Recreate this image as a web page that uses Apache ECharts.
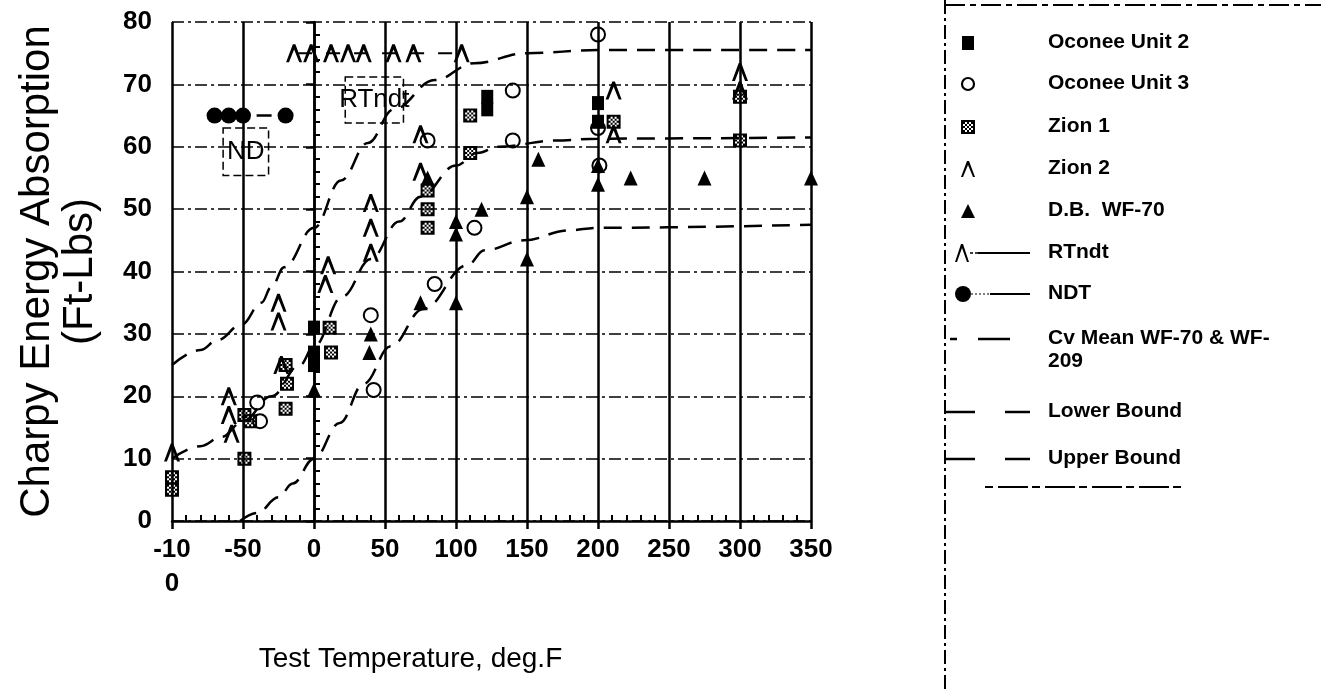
<!DOCTYPE html>
<html><head><meta charset="utf-8">
<script src="https://cdn.jsdelivr.net/npm/echarts@6/dist/echarts.min.js"></script>
<style>html,body{margin:0;padding:0;background:#fff}#c{width:1321px;height:692px}</style>
</head><body><div id="c"></div>
<script>
// ---------- data ----------
const xTickValues = [-100, -50, 0, 50, 100, 150, 200, 250, 300, 350];
const xTickLabels = ['-10\n0', '-50', '0', '50', '100', '150', '200', '250', '300', '350'];
const yTickLabels = ['0', '10', '20', '30', '40', '50', '60', '70', '80'];

const oconee2 = [[0,31],[0,27],[0,25],[122,68],[122,66],[200,67],[200,64]];
const oconee3 = [[-40,19],[-38,16],[40,33],[42,21],[85,38],[80,61],[113,47],[140,69],[140,61],[200,78],[200,63],[201,57]];
const zion1 = [[-100,7],[-100,5],[-49,10],[-49,17],[-45,16],[-20,25],[-19,22],[-20,18],[11,31],[12,27],[80,53],[80,50],[80,47],[110,65],[110,59],[211,64],[300,68],[300,61]];
const zion2 = [[-100,11],[-60,20],[-60,17],[-58,14],[-25,35],[-25,32],[-23,25],[10,41],[8,38],[40,51],[40,47],[40,43],[75,62],[75,56],[211,69],[211,62],[300,72],[300,69]];
const dbWF70 = [[0,21],[40,30],[39,27],[75,35],[80,55],[100,35],[100,46],[100,48],[118,50],[158,58],[150,52],[150,42],[200,57],[200,54],[223,55],[275,55],[350,55]];
const rtndt = [[-14,75],[-2,75],[12,75],[24,75],[35,75],[56,75],[70,75],[104,75]];
const ndt = [[-70,65],[-60,65],[-50,65],[-20,65]];
const cvMean = [[-100,10],[-80,12],[-65,13.5],[-50,16],[-30,20],[-10,25],[0,28],[20,36],[40,42],[60,48],[75,52],[100,57],[115,59],[130,60],[170,61],[200,61.3],[350,61.5]];
const lowerBound = [[-52,0],[-40,1.3],[-25,3.8],[-15,6],[0,10],[18,15.7],[35,22],[54,28],[77,34],[108,41],[120,43.4],[148,45],[179,46.6],[200,47],[350,47.5]];
const upperBound = [[-100,25],[-80,27.4],[-68,29],[-51,31.5],[-37,35],[-30,37.5],[-21,40.7],[0,47],[19,54.6],[38,60.6],[56,66],[85,70.7],[113,73.4],[150,75],[200,75.5],[350,75.5]];

const legendNames = ['Oconee Unit 2','Oconee Unit 3','Zion 1','Zion 2','D.B.  WF-70','RTndt','NDT','Cv Mean WF-70 & WF-\n209','Lower Bound','Upper Bound'];

// ---------- symbols ----------
const chevron = 'path://M0 10L4.2 0L5.8 0L10 10L8.2 10L5 2.9L1.8 10Z';
const HN = 7;
function hatchCell(i, j) { return (i + j) % 2 === 0 || i === 0 || j === 0 || i === HN - 1 || j === HN - 1; }
function hatchPath() {
  let s = 'path://';
  for (let i = 0; i < HN; i++) for (let j = 0; j < HN; j++)
    if (hatchCell(i, j)) s += 'M' + i + ' ' + j + 'h1v1h-1Z';
  return s;
}
const hatch = hatchPath();

const FONT = '"Liberation Sans", Arial, sans-serif';
const chart = echarts.init(document.getElementById('c'));

const black = '#000';
const curveStyle = { color: black, width: 2.5, type: [18, 10] };

const legendRowsY = [43, 84, 127, 169, 211, 253, 294, 339, 412, 459];
const gfx = [];
gfx.push({ type: 'line', shape: { x1: 945, y1: 0, x2: 945, y2: 692 }, style: { stroke: black, lineWidth: 2, lineDash: [14, 4, 3, 4] } });
gfx.push({ type: 'line', shape: { x1: 945, y1: 5, x2: 1321, y2: 5 }, style: { stroke: black, lineWidth: 2, lineDash: [20, 5, 6, 5] } });
gfx.push({ type: 'line', shape: { x1: 985, y1: 487, x2: 1185, y2: 487 }, style: { stroke: black, lineWidth: 2, lineDash: [8, 5, 30, 4] } });
legendNames.forEach((name, i) => {
  gfx.push({ type: 'text', x: 1048, y: legendRowsY[i] - 12, style: { text: name, font: 'bold 21px ' + FONT, fill: black, verticalAlign: 'top', lineHeight: 23 } });
});
const mx = 968;
gfx.push({ type: 'rect', shape: { x: mx - 6, y: legendRowsY[0] - 7, width: 12, height: 14 }, style: { fill: black } });
gfx.push({ type: 'circle', shape: { cx: mx, cy: legendRowsY[1], r: 6 }, style: { fill: 'none', stroke: black, lineWidth: 2.2 } });
for (let i = 0; i < HN; i++) for (let j = 0; j < HN; j++) if (hatchCell(i, j))
  gfx.push({ type: 'rect', shape: { x: mx - 7 + i * 2, y: legendRowsY[2] - 7 + j * 2, width: 2, height: 2 }, style: { fill: black } });
let ly = legendRowsY[3];
gfx.push({ type: 'polygon', shape: { points: [[mx - 7, ly + 8], [mx - 1, ly - 8], [mx + 1, ly - 8], [mx + 7, ly + 8], [mx + 5, ly + 8], [mx, ly - 4], [mx - 5, ly + 8]] }, style: { fill: black } });
ly = legendRowsY[4];
gfx.push({ type: 'polygon', shape: { points: [[mx - 7, ly + 7], [mx, ly - 7], [mx + 7, ly + 7]] }, style: { fill: black } });
let ry = legendRowsY[5];
gfx.push({ type: 'polygon', shape: { points: [[955, ry + 9], [961, ry - 9], [963, ry - 9], [969, ry + 9], [967, ry + 9], [962, ry - 5], [957, ry + 9]] }, style: { fill: black } });
gfx.push({ type: 'line', shape: { x1: 970, y1: ry, x2: 978, y2: ry }, style: { stroke: black, lineWidth: 1.5, lineDash: [3, 2] } });
gfx.push({ type: 'line', shape: { x1: 978, y1: ry, x2: 1030, y2: ry }, style: { stroke: black, lineWidth: 2 } });
ry = legendRowsY[6];
gfx.push({ type: 'circle', shape: { cx: 963, cy: ry, r: 8 }, style: { fill: black } });
gfx.push({ type: 'line', shape: { x1: 971, y1: ry, x2: 990, y2: ry }, style: { stroke: black, lineWidth: 1.2, lineDash: [2, 2] } });
gfx.push({ type: 'line', shape: { x1: 990, y1: ry, x2: 1030, y2: ry }, style: { stroke: black, lineWidth: 2 } });
ry = legendRowsY[7];
gfx.push({ type: 'line', shape: { x1: 950, y1: ry, x2: 957, y2: ry }, style: { stroke: black, lineWidth: 2.5 } });
gfx.push({ type: 'line', shape: { x1: 978, y1: ry, x2: 1010, y2: ry }, style: { stroke: black, lineWidth: 2.5 } });
[8, 9].forEach(k => {
  const y = legendRowsY[k];
  gfx.push({ type: 'line', shape: { x1: 945, y1: y, x2: 975, y2: y }, style: { stroke: black, lineWidth: 2.5 } });
  gfx.push({ type: 'line', shape: { x1: 1005, y1: y, x2: 1030, y2: y }, style: { stroke: black, lineWidth: 2.5 } });
});

const markerStyle = { color: black, opacity: 1 };

const option = {
  animation: false,
  backgroundColor: '#fff',
  textStyle: { fontFamily: FONT },
  grid: { left: 172, right: 510, top: 22, bottom: 171, containLabel: false },
  xAxis: [{
    type: 'value', min: -100, max: 350, interval: 50,
    axisLine: { show: true, lineStyle: { color: black, width: 2.5 } },
    axisTick: { show: true, length: 8, lineStyle: { color: black, width: 2.5 } },
    minorTick: { show: false },
    axisLabel: { color: black, fontSize: 26, fontWeight: 'bold', margin: 12, lineHeight: 34,
      formatter: v => { const i = xTickValues.indexOf(v); return i >= 0 ? xTickLabels[i] : ''; } },
    splitLine: { show: true, lineStyle: { color: black, width: 2.5 } },
    name: 'Test Temperature, deg.F', nameLocation: 'middle', nameGap: 124,
    nameTextStyle: { color: black, fontSize: 28, padding: [0, 162, 0, 0] }
  }, {
    type: 'value', min: -100, max: 350, interval: 50, position: 'bottom',
    axisLine: { show: false }, axisTick: { show: false, inside: true },
    minorTick: { show: true, splitNumber: 5, length: 6, lineStyle: { color: black, width: 2 } },
    axisLabel: { show: false }, splitLine: { show: false }
  }],
  yAxis: [{
    type: 'value', min: 0, max: 80, interval: 10,
    axisLine: { show: true, lineStyle: { color: black, width: 2.5 } },
    axisTick: { show: true, length: 8, lineStyle: { color: black, width: 2.5 } },
    minorTick: { show: false },
    axisLabel: { color: black, fontSize: 26, fontWeight: 'bold', margin: 20,
      formatter: v => yTickLabels[Math.round(v / 10)] },
    splitLine: { show: true, lineStyle: { color: black, width: 1.5, type: [12, 4, 3, 4] } },
    name: 'Charpy Energy Absorption\n(Ft-Lbs)', nameLocation: 'middle', nameGap: 70, nameRotate: 90,
    nameTextStyle: { color: black, fontSize: 42, lineHeight: 43 }
  }, {
    type: 'value', min: 0, max: 80, interval: 10, position: 'left',
    axisLine: { show: false }, axisTick: { show: false, inside: true },
    minorTick: { show: true, splitNumber: 5, length: 6, lineStyle: { color: black, width: 2 } },
    axisLabel: { show: false }, splitLine: { show: false }
  }],
  graphic: gfx,
  series: [
    { name: 'Upper Bound', type: 'line', data: upperBound, showSymbol: false, symbol: 'none', smooth: 0.4, smoothMonotone: 'x', lineStyle: curveStyle, z: 2 },
    { name: 'Cv Mean', type: 'line', data: cvMean, showSymbol: false, symbol: 'none', smooth: 0.4, smoothMonotone: 'x', lineStyle: curveStyle, z: 2 },
    { name: 'Lower Bound', type: 'line', data: lowerBound, showSymbol: false, symbol: 'none', smooth: 0.4, smoothMonotone: 'x', lineStyle: curveStyle, z: 2 },
    { name: 'RTndt', type: 'line', data: rtndt, symbol: chevron, symbolSize: [16, 18], itemStyle: markerStyle,
      lineStyle: { color: black, width: 2, type: [14, 14], dashOffset: 24 }, z: 4,
      markArea: { silent: true, itemStyle: { color: 'rgba(0,0,0,0)', borderColor: black, borderWidth: 1.5, borderType: [8, 4] },
        label: { show: true, position: 'inside', color: black, fontSize: 26, formatter: 'RTndt' },
        data: [[{ coord: [22, 71.2] }, { coord: [63, 63.8] }]] } },
    { name: 'NDT', type: 'line', data: ndt, symbol: 'circle', symbolSize: 16, itemStyle: markerStyle,
      lineStyle: { color: black, width: 2.5, type: [15, 15], dashOffset: 18 }, z: 4,
      markArea: { silent: true, itemStyle: { color: 'rgba(0,0,0,0)', borderColor: black, borderWidth: 1.5, borderType: [8, 4] },
        label: { show: true, position: 'inside', color: black, fontSize: 26, formatter: 'ND' },
        data: [[{ coord: [-64, 63] }, { coord: [-32, 55.4] }]] } },
    { name: 'Oconee Unit 2', type: 'scatter', data: oconee2, symbol: 'rect', symbolSize: [12, 14], itemStyle: markerStyle, z: 5 },
    { name: 'Oconee Unit 3', type: 'scatter', data: oconee3, symbol: 'circle', symbolSize: 14, itemStyle: { color: 'rgba(0,0,0,0)', borderColor: black, borderWidth: 2, opacity: 1 }, z: 5 },
    { name: 'Zion 1', type: 'scatter', data: zion1, symbol: hatch, symbolSize: 14, itemStyle: markerStyle, z: 5 },
    { name: 'Zion 2', type: 'scatter', data: zion2, symbol: chevron, symbolSize: [16, 18], itemStyle: markerStyle, z: 5 },
    { name: 'D.B.  WF-70', type: 'scatter', data: dbWF70, symbol: 'triangle', symbolSize: [14, 15], itemStyle: markerStyle, z: 5 }
  ]
};
chart.setOption(option);
</script></body></html>
